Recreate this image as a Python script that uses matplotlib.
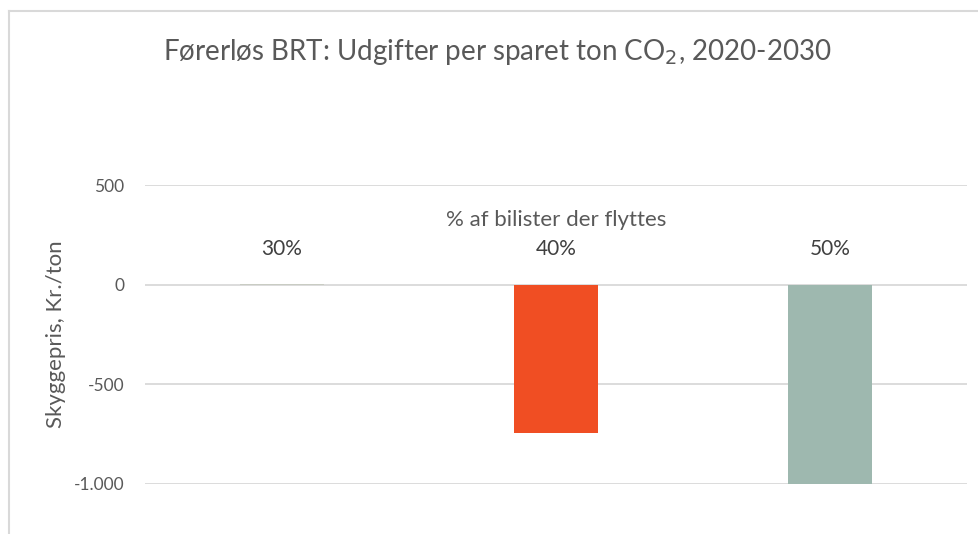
import matplotlib.pyplot as plt
from matplotlib.lines import Line2D

categories = ["30%", "40%", "50%"]
values = [5, -745, -1005]
colors = ["#C9CCC3", "#F04E23", "#9EB8AF"]
yticks = [500, 0, -500, -1000]
ytick_labels = ["500", "0", "-500", "-1.000"]

TEXT = "#595959"
GRID = "#D9D9D9"

plt.rcParams["font.family"] = ["Lato", "DejaVu Sans"]

W, H = 979, 534
fig = plt.figure(figsize=(W / 100, H / 100), dpi=100)
ax = fig.add_axes([145 / W, 1 - 484 / H, (967 - 145) / W, (484 - 185) / H])

x = range(len(categories))
ax.bar(x, values, width=0.31, color=colors, zorder=3)

ax.set_xlim(-0.5, 2.5)
ax.set_ylim(-1000, 500)
ax.set_yticks(yticks)
ax.set_yticklabels(ytick_labels)
ax.tick_params(axis="y", length=0, pad=15, labelsize=12.5, labelcolor=TEXT)
ax.set_xticks([])
ax.grid(axis="y", color=GRID, linewidth=1.3, zorder=0)
for s in ax.spines.values():
    s.set_visible(False)

# category labels above the zero line
for i, c in enumerate(categories):
    ax.text(i, 180, c, ha="center", va="center", fontsize=15, color="#404040")
ax.text(1, 325, "% af bilister der flyttes", ha="center", va="center",
        fontsize=16, color=TEXT)

ax.set_ylabel("Skyggepris, Kr./ton", fontsize=16, color=TEXT)
ax.yaxis.set_label_coords(-0.096, 0.5)

fig.text(497 / W, 1 - 52 / H, "Førerløs BRT: Udgifter per sparet ton CO$_2$, 2020-2030",
         ha="center", va="center", fontsize=20, color=TEXT)

# chart frame (cropped at right/bottom)
fig.add_artist(Line2D([9 / W, 9 / W], [0, 1 - 11 / H], color=GRID, linewidth=1.5,
                      transform=fig.transFigure))
fig.add_artist(Line2D([9 / W, 1], [1 - 11 / H, 1 - 11 / H], color=GRID, linewidth=1.5,
                      transform=fig.transFigure))

fig.savefig("out.png", dpi=100)
